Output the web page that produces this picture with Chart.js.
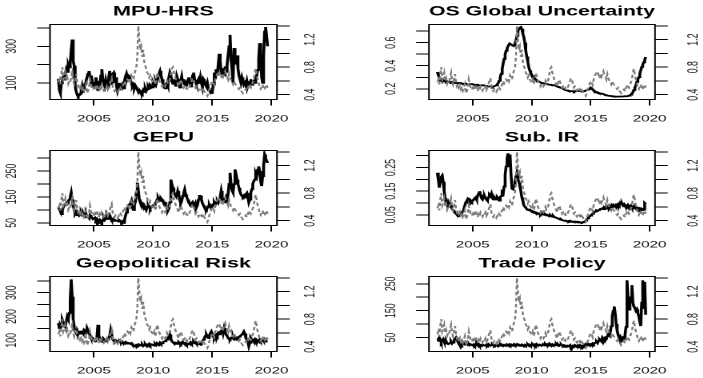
<!DOCTYPE html>
<html>
<head>
<meta charset="utf-8">
<title>Uncertainty indices vs. volatility</title>
<script src="https://cdn.jsdelivr.net/npm/chart.js@4.4.1/dist/chart.umd.min.js"></script>
<style>
  html, body { margin:0; padding:0; background:#fff; }
  #wrap { position:relative; width:703px; height:378px; overflow:hidden; background:#fff; }
  .panel { position:absolute; width:220px; height:126px; transform:scaleX(1.6); transform-origin:0 0; }
  .panel canvas { display:block; }
</style>
</head>
<body>
<div id="wrap">
  <div class="panel" style="left:0px;top:0px"><canvas id="c1" width="220" height="126"></canvas></div>
  <div class="panel" style="left:352px;top:0px"><canvas id="c2" width="220" height="126"></canvas></div>
  <div class="panel" style="left:0px;top:126px"><canvas id="c3" width="220" height="126"></canvas></div>
  <div class="panel" style="left:352px;top:126px"><canvas id="c4" width="220" height="126"></canvas></div>
  <div class="panel" style="left:0px;top:252px"><canvas id="c5" width="220" height="126"></canvas></div>
  <div class="panel" style="left:352px;top:252px"><canvas id="c6" width="220" height="126"></canvas></div>
</div>
<script>
// ---------------- DATA (monthly, Jan 2002 - Sep 2019) ----------------
const startYear = 2002;
const xTicks = [2005, 2010, 2015, 2020];

// grey dashed series, right axis (same in every panel)
const volatility = [
  0.58,0.62,0.55,0.70,0.80,0.62,0.66,0.72,0.60,0.64,0.56,0.60,
  0.58,0.66,0.72,0.60,0.55,0.62,0.70,0.58,0.52,0.55,0.50,0.53,
  0.48,0.52,0.46,0.50,0.55,0.42,0.45,0.50,0.62,0.55,0.50,0.47,
  0.50,0.46,0.52,0.55,0.48,0.45,0.50,0.47,0.52,0.49,0.46,0.50,
  0.48,0.52,0.47,0.50,0.55,0.60,0.64,0.52,0.47,0.45,0.48,0.46,
  0.44,0.47,0.45,0.50,0.48,0.52,0.55,0.60,0.56,0.58,0.62,0.60,
  0.64,0.60,0.68,0.65,0.62,0.70,0.75,0.80,0.95,1.40,1.20,1.05,
  1.10,0.95,1.05,0.88,0.82,0.78,0.72,0.70,0.65,0.68,0.62,0.60,
  0.58,0.62,0.55,0.60,0.72,0.68,0.62,0.58,0.55,0.52,0.56,0.54,
  0.52,0.55,0.60,0.56,0.58,0.62,0.70,0.78,0.80,0.72,0.68,0.62,
  0.60,0.55,0.52,0.58,0.62,0.58,0.54,0.50,0.52,0.48,0.50,0.47,
  0.48,0.52,0.55,0.60,0.64,0.62,0.55,0.50,0.52,0.48,0.46,0.49,
  0.46,0.48,0.44,0.47,0.45,0.42,0.40,0.38,0.42,0.48,0.52,0.56,
  0.60,0.58,0.54,0.62,0.66,0.70,0.72,0.74,0.68,0.64,0.70,0.66,
  0.70,0.74,0.68,0.66,0.62,0.70,0.64,0.60,0.58,0.55,0.60,0.56,
  0.54,0.52,0.50,0.48,0.50,0.46,0.44,0.42,0.44,0.46,0.48,0.45,
  0.48,0.55,0.52,0.50,0.54,0.58,0.62,0.72,0.78,0.70,0.62,0.58,
  0.50,0.48,0.52,0.55,0.50,0.47,0.52,0.55,0.50
];
const rightTicks = [0.4, 0.6, 0.8, 1.0, 1.2, 1.4];
const rightLabels = [0.4, 0.8, 1.2];
const rightRange = [0.33, 1.42];

const mpuHrs = [
  122,60,44,98,110,130,118,150,175,160,200,185,
  211,280,337,220,193,80,54,35,26,30,40,55,
  80,45,70,95,110,130,150,165,140,110,120,90,
  72,100,130,95,60,110,85,140,175,120,95,80,
  115,90,75,130,165,110,90,150,156,100,130,80,
  53,70,100,80,60,85,70,110,135,150,125,140,
  137,115,100,80,90,70,85,75,63,55,60,50,
  53,45,60,50,70,55,65,80,70,90,85,75,
  95,80,110,95,120,135,150,165,140,120,95,85,
  70,90,100,85,130,156,140,110,95,120,100,80,
  137,120,90,75,110,135,100,120,90,85,105,115,
  130,100,80,95,140,156,120,105,90,110,120,95,
  130,100,75,120,110,90,80,100,70,60,55,45,
  53,90,156,120,175,140,200,259,220,150,180,156,
  140,190,160,200,250,300,362,230,175,100,290,250,
  200,250,180,140,120,100,130,110,90,100,85,110,
  80,95,100,120,90,105,110,100,130,140,170,230,
  317,260,130,100,250,380,405,360,300
];
const mpuTicks = [100, 200, 300, 400];
const mpuLabels = [100, 300];

const osGlobal = [
  0.345,0.32,0.30,0.28,0.27,0.265,0.265,0.27,0.265,0.26,0.265,0.26,
  0.26,0.26,0.255,0.26,0.255,0.255,0.25,0.255,0.25,0.25,0.25,0.25,
  0.25,0.245,0.245,0.245,0.24,0.245,0.24,0.24,0.24,0.24,0.24,0.24,
  0.24,0.235,0.235,0.235,0.23,0.235,0.23,0.23,0.23,0.23,0.23,0.23,
  0.23,0.225,0.225,0.225,0.22,0.22,0.22,0.22,0.215,0.22,0.22,0.225,
  0.23,0.24,0.25,0.27,0.30,0.33,0.37,0.42,0.46,0.50,0.53,0.55,
  0.57,0.585,0.59,0.585,0.58,0.575,0.575,0.59,0.62,0.66,0.70,0.72,
  0.73,0.735,0.72,0.68,0.65,0.60,0.53,0.48,0.44,0.39,0.36,0.34,
  0.32,0.31,0.30,0.29,0.28,0.275,0.27,0.265,0.26,0.255,0.25,0.25,
  0.25,0.245,0.245,0.24,0.24,0.24,0.235,0.235,0.235,0.23,0.23,0.23,
  0.23,0.225,0.22,0.22,0.215,0.21,0.21,0.205,0.20,0.195,0.19,0.19,
  0.185,0.185,0.18,0.18,0.18,0.18,0.18,0.175,0.18,0.18,0.18,0.18,
  0.18,0.18,0.18,0.178,0.18,0.18,0.18,0.185,0.185,0.19,0.19,0.195,
  0.21,0.205,0.195,0.185,0.18,0.175,0.17,0.17,0.165,0.16,0.16,0.158,
  0.157,0.155,0.15,0.148,0.145,0.142,0.14,0.14,0.138,0.137,0.135,0.135,
  0.133,0.133,0.132,0.132,0.132,0.132,0.133,0.133,0.133,0.133,0.134,0.135,
  0.135,0.136,0.138,0.14,0.145,0.15,0.16,0.17,0.19,0.21,0.23,0.26,
  0.28,0.30,0.33,0.36,0.39,0.41,0.43,0.45,0.475
];
const osTicks = [0.2, 0.3, 0.4, 0.5, 0.6, 0.7];
const osLabels = [0.2, 0.4, 0.6];

const gepu = [
  110,103,95,84,100,110,118,122,128,125,135,140,
  150,167,140,116,100,84,90,80,85,78,82,88,
  78,88,80,72,85,75,72,68,80,75,70,65,
  65,70,60,65,58,55,62,58,52,60,70,62,
  68,75,65,72,80,70,62,65,58,62,60,59,
  59,55,60,57,52,56,50,60,78,90,100,116,
  116,125,135,110,100,118,130,167,205,175,140,129,
  129,120,110,103,108,100,112,118,110,105,115,116,
  116,120,125,130,140,148,140,135,145,140,132,129,
  129,120,110,97,105,130,217,200,186,170,160,154,
  154,173,160,140,125,135,154,165,179,160,150,140,
  135,125,115,125,130,120,115,125,110,118,140,154,
  154,140,125,118,110,103,100,108,115,120,112,118,
  116,122,128,120,130,135,128,140,150,173,150,130,
  129,140,150,140,160,200,243,200,175,167,200,256,
  240,217,200,185,170,160,154,150,155,148,160,165,
  150,129,140,165,180,200,210,217,240,230,255,268,
  250,210,192,230,270,313,300,290,281
];
const gepuTicks = [50, 100, 150, 200, 250, 300];
const gepuLabels = [50, 150, 250];

const subIR = [
  0.228,0.20,0.165,0.19,0.21,0.216,0.19,0.15,0.12,0.10,0.09,0.10,
  0.08,0.095,0.09,0.075,0.07,0.068,0.06,0.055,0.05,0.045,0.05,0.05,
  0.055,0.06,0.065,0.075,0.09,0.103,0.11,0.117,0.11,0.115,0.11,0.105,
  0.11,0.115,0.12,0.124,0.115,0.13,0.14,0.15,0.135,0.12,0.115,0.125,
  0.13,0.12,0.115,0.11,0.125,0.135,0.13,0.14,0.12,0.115,0.125,0.12,
  0.115,0.125,0.12,0.11,0.125,0.13,0.145,0.14,0.17,0.22,0.255,0.29,
  0.31,0.255,0.305,0.22,0.16,0.158,0.175,0.19,0.21,0.228,0.20,0.19,
  0.172,0.15,0.124,0.11,0.09,0.085,0.08,0.075,0.075,0.07,0.072,0.068,
  0.068,0.065,0.06,0.062,0.058,0.055,0.057,0.055,0.052,0.05,0.055,0.052,
  0.055,0.05,0.052,0.048,0.05,0.047,0.045,0.048,0.044,0.042,0.045,0.04,
  0.04,0.038,0.036,0.035,0.032,0.03,0.031,0.028,0.027,0.025,0.026,0.024,
  0.022,0.024,0.022,0.025,0.023,0.021,0.022,0.02,0.019,0.021,0.02,0.018,
  0.02,0.019,0.018,0.017,0.019,0.02,0.022,0.025,0.03,0.035,0.04,0.044,
  0.047,0.05,0.055,0.06,0.062,0.065,0.068,0.066,0.07,0.072,0.075,0.076,
  0.078,0.074,0.08,0.076,0.082,0.079,0.085,0.08,0.087,0.083,0.09,0.086,
  0.089,0.085,0.092,0.088,0.095,0.09,0.10,0.094,0.098,0.09,0.095,0.088,
  0.089,0.085,0.092,0.086,0.082,0.088,0.08,0.084,0.078,0.082,0.076,0.08,
  0.075,0.078,0.072,0.076,0.07,0.074,0.072,0.10,0.096
];
const subIRTicks = [0.05, 0.10, 0.15, 0.20, 0.25, 0.30];
const subIRLabels = [0.05, 0.15, 0.25];

const geoRisk = [
  172,151,165,158,186,175,172,160,180,200,190,215,
  269,356,283,186,160,137,130,140,125,132,128,137,
  137,130,144,140,125,151,140,135,120,110,103,108,
  103,96,100,110,165,120,100,96,98,92,105,100,
  96,100,103,110,120,144,125,105,98,95,100,96,
  96,92,95,90,89,94,90,88,92,86,90,89,
  89,85,88,82,80,78,75,80,77,82,78,80,
  78,82,76,80,84,78,82,80,85,79,83,82,
  82,78,85,80,88,84,82,90,85,88,92,95,
  96,100,103,110,115,124,105,96,92,88,85,90,
  89,85,92,88,84,90,86,89,84,88,82,86,
  85,88,92,86,90,95,89,92,86,84,88,85,
  82,90,96,103,110,118,124,115,110,120,130,137,
  137,115,110,120,124,118,130,125,135,140,151,130,
  151,135,124,118,110,105,103,110,108,115,103,110,
  106,112,110,115,118,120,125,130,137,128,110,103,
  95,75,90,110,103,98,100,105,96,103,100,98,
  103,96,100,105,98,96,100,95,96
];
const geoTicks = [100, 150, 200, 250, 300, 350];
const geoLabels = [100, 200, 300];

const tradePolicy = [
  38,45,50,42,32,38,44,35,30,36,28,26,
  26,30,35,28,32,40,45,50,42,38,30,28,
  25,22,28,30,26,32,28,24,27,22,25,23,
  22,25,20,24,28,22,26,20,23,21,24,22,
  22,20,24,21,26,23,20,22,25,21,19,22,
  20,22,18,21,24,20,22,19,23,21,20,24,
  22,25,21,24,20,23,26,22,24,21,23,20,
  22,20,24,21,19,23,20,22,25,21,24,20,
  22,25,21,24,20,26,23,21,24,22,20,23,
  24,21,26,22,25,23,28,24,21,25,22,24,
  22,26,21,24,20,23,25,21,19,22,20,18,
  20,17,19,22,13,16,20,18,22,19,17,21,
  18,22,19,16,21,18,23,20,24,21,25,22,
  26,24,28,25,30,32,35,30,38,44,40,36,
  50,45,42,50,48,55,62,58,70,93,129,150,
  166,140,100,75,60,50,55,48,44,50,46,60,
  90,263,200,154,180,200,245,180,165,160,150,155,
  141,130,110,93,180,263,160,257,135
];
const tradeTicks = [50, 100, 150, 200, 250];
const tradeLabels = [50, 150, 250];

// ---------------- CHARTS ----------------
const FONT = '"Liberation Sans", Arial, sans-serif';
const X_RANGE = [2001.29, 2020.46];
const columns = [
  { leftW: 31.25, rightW: 46.9, gapL: 23.5, gapR: 21 },
  { leftW: 48.1,  rightW: 30.6, gapL: 23.5, gapR: 24 }
];
const panels = [
  { canvas: 'c1', col: 0, title: 'MPU-HRS', values: mpuHrs, ticks: mpuTicks, labels: mpuLabels, range: [9, 419] },
  { canvas: 'c2', col: 1, title: 'OS Global Uncertainty', values: osGlobal, ticks: osTicks, labels: osLabels, range: [0.107, 0.758] },
  { canvas: 'c3', col: 0, title: 'GEPU', values: gepu, ticks: gepuTicks, labels: gepuLabels, range: [40, 329] },
  { canvas: 'c4', col: 1, title: 'Sub. IR', values: subIR, ticks: subIRTicks, labels: subIRLabels, range: [0.005, 0.322] },
  { canvas: 'c5', col: 0, title: 'Geopolitical Risk', values: geoRisk, ticks: geoTicks, labels: geoLabels, range: [53, 368] },
  { canvas: 'c6', col: 1, title: 'Trade Policy', values: tradePolicy, ticks: tradeTicks, labels: tradeLabels, range: [-1.5, 277] }
];

const mctx = document.createElement('canvas').getContext('2d');
function widest(strs, size) {
  mctx.font = size + 'px ' + FONT;
  return Math.max(0, ...strs.map(s => mctx.measureText(s).width));
}
function toPoints(vals) { return vals.map((v, i) => ({ x: startYear + i / 12, y: v })); }
function labelFor(list, v) {
  const hit = list.find(l => Math.abs(l - v) < 1e-9);
  return hit === undefined ? '' : String(hit);
}

const boxPlugin = {
  id: 'box',
  afterDraw(chart) {
    const { ctx, chartArea: a } = chart;
    ctx.save();
    ctx.strokeStyle = '#000';
    ctx.lineWidth = 1;
    ctx.strokeRect(a.left, a.top, a.right - a.left, a.bottom - a.top);
    ctx.restore();
  }
};

const Y_FONT = 8.8, TL_Y = 8;
panels.forEach(p => {
  const col = columns[p.col];
  const wL = widest(p.labels.map(String), Y_FONT);
  const wR = widest(rightLabels.map(String), Y_FONT);
  const tickGrid = (len) => ({ drawOnChartArea: false, drawTicks: true, tickLength: len, color: '#000', lineWidth: 1 });
  new Chart(document.getElementById(p.canvas), {
    type: 'line',
    data: {
      datasets: [
        { label: 'Volatility', data: toPoints(volatility), yAxisID: 'y1',
          borderColor: '#7c7c7c', borderWidth: 1.25, borderDash: [3.5, 2.5],
          pointRadius: 0, tension: 0, fill: false },
        { label: p.title, data: toPoints(p.values), yAxisID: 'y',
          borderColor: '#000000', borderWidth: 1.8,
          pointRadius: 0, tension: 0, fill: false }
      ]
    },
    options: {
      responsive: false, animation: false, devicePixelRatio: 2, events: [],
      layout: { padding: 0 },
      plugins: {
        legend: { display: false },
        tooltip: { enabled: false },
        title: { display: true, text: p.title, fullSize: false, color: '#000',
                 font: { family: FONT, size: 13.5, weight: 'bold' },
                 padding: { top: 3.5, bottom: 4.8 } }
      },
      scales: {
        x: {
          type: 'linear', position: 'bottom', min: X_RANGE[0], max: X_RANGE[1], bounds: 'data',
          afterBuildTicks: s => { s.ticks = xTicks.map(v => ({ value: v })); },
          afterFit: s => { s.height = 26.5; },
          grid: tickGrid(6), border: { display: false },
          ticks: { autoSkip: false, minRotation: 0, maxRotation: 0, padding: 7.5, color: '#111',
                   font: { family: FONT, size: 9.5 }, callback: v => String(v) }
        },
        y: {
          type: 'linear', position: 'left', min: p.range[0], max: p.range[1], bounds: 'data',
          afterBuildTicks: s => { s.ticks = p.ticks.map(v => ({ value: v })); },
          afterFit: s => { s.width = col.leftW; },
          grid: tickGrid(TL_Y), border: { display: false },
          ticks: { autoSkip: false, minRotation: 90, maxRotation: 90, crossAlign: 'center',
                   padding: col.gapL - TL_Y - wL / 2, color: '#111',
                   font: { family: FONT, size: Y_FONT }, callback: v => labelFor(p.labels, v) }
        },
        y1: {
          type: 'linear', position: 'right', min: rightRange[0], max: rightRange[1], bounds: 'data',
          afterBuildTicks: s => { s.ticks = rightTicks.map(v => ({ value: v })); },
          afterFit: s => { s.width = col.rightW; },
          grid: tickGrid(TL_Y), border: { display: false },
          ticks: { autoSkip: false, minRotation: 90, maxRotation: 90, crossAlign: 'center',
                   padding: col.gapR - TL_Y - wR / 2, color: '#111',
                   font: { family: FONT, size: Y_FONT }, callback: v => labelFor(rightLabels, v) }
        }
      }
    },
    plugins: [boxPlugin]
  });
});
</script>
</body>
</html>
